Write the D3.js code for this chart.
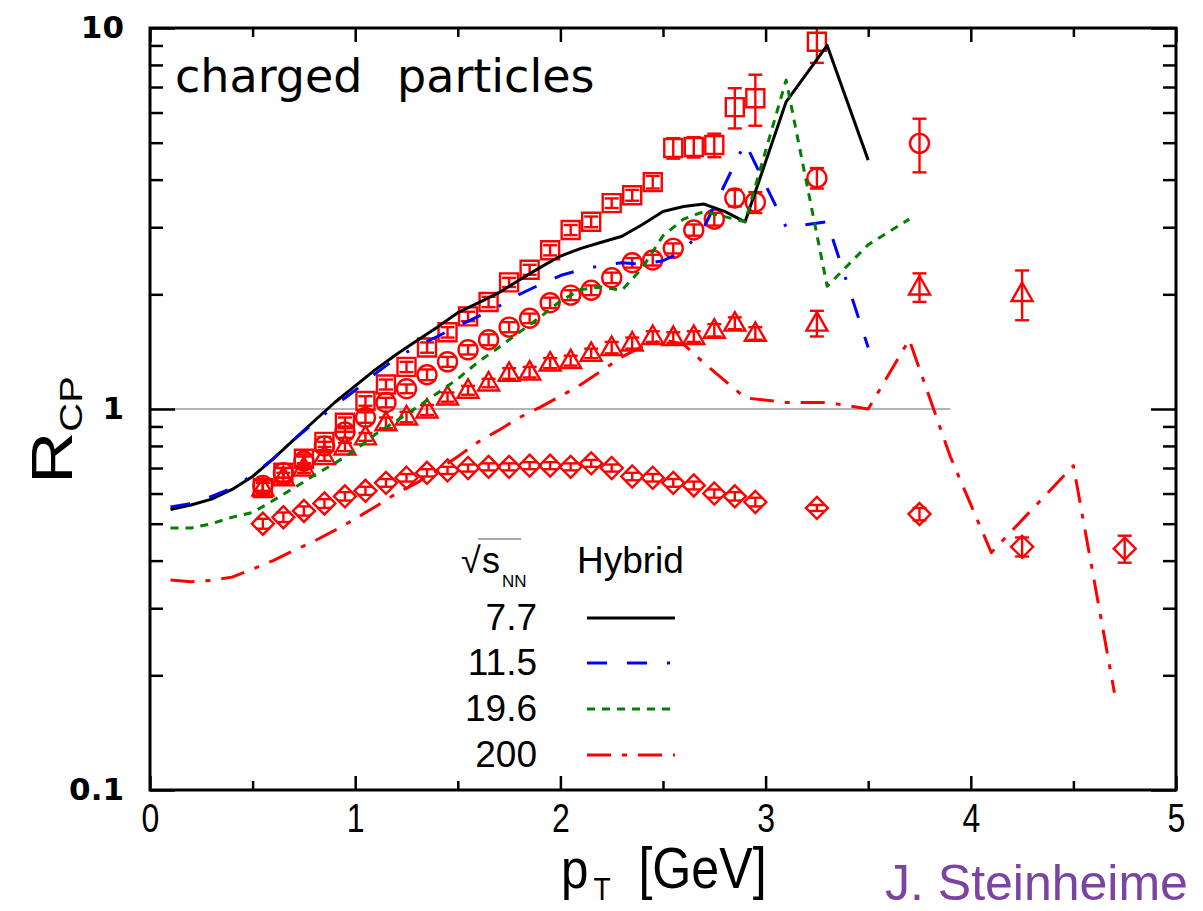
<!DOCTYPE html>
<html>
<head>
<meta charset="utf-8">
<script src="https://cdn.jsdelivr.net/npm/d3@7"></script>
<style>
  body { margin: 0; background: #fff; }
  svg { display: block; }
</style>
</head>
<body>
<svg id="chart" width="1203" height="911"></svg>
<script>
// ---- measured R_CP points (charged particles), open red markers ----
const pt77  = [0.55,0.65,0.75,0.85,0.95,1.05,1.15,1.25,1.35,1.45,1.55,1.65,1.75,1.85,1.95,2.05,2.15,2.25,2.35,2.45,2.55,2.65,2.75,2.85,2.95,3.25];
const rcp77 = [0.62,0.68,0.74,0.82,0.92,1.05,1.16,1.29,1.45,1.59,1.75,1.91,2.15,2.32,2.61,2.95,3.10,3.47,3.64,3.94,4.84,4.87,4.93,6.20,6.54,9.20];
const err77 = [0.02,0.02,0.02,0.025,0.03,0.03,0.035,0.04,0.045,0.05,0.05,0.06,0.06,0.07,0.08,0.09,0.10,0.10,0.12,0.15,0.30,0.30,0.35,0.75,1.00,1.10];

const pt115  = [0.55,0.65,0.75,0.85,0.95,1.05,1.15,1.25,1.35,1.45,1.55,1.65,1.75,1.85,1.95,2.05,2.15,2.25,2.35,2.45,2.55,2.65,2.75,2.85,2.95,3.25,3.75];
const rcp115 = [0.63,0.68,0.73,0.80,0.87,0.95,1.04,1.13,1.23,1.33,1.43,1.52,1.64,1.73,1.90,1.99,2.05,2.21,2.42,2.46,2.64,2.95,3.15,3.58,3.49,4.04,4.98];
const err115 = [0.02,0.02,0.02,0.02,0.03,0.03,0.03,0.03,0.04,0.04,0.04,0.05,0.05,0.05,0.06,0.06,0.06,0.07,0.07,0.08,0.08,0.10,0.12,0.18,0.22,0.25,0.80];

const pt196  = [0.55,0.65,0.75,0.85,0.95,1.05,1.15,1.25,1.35,1.45,1.55,1.65,1.75,1.85,1.95,2.05,2.15,2.25,2.35,2.45,2.55,2.65,2.75,2.85,2.95,3.25,3.75,4.25];
const rcp196 = [0.62,0.66,0.70,0.75,0.795,0.845,0.92,0.953,0.994,1.075,1.12,1.17,1.24,1.25,1.32,1.34,1.40,1.45,1.49,1.55,1.54,1.55,1.61,1.68,1.58,1.68,2.09,2.01];
const err196 = [0.02,0.02,0.02,0.02,0.02,0.02,0.03,0.03,0.03,0.03,0.03,0.03,0.04,0.04,0.04,0.04,0.04,0.05,0.05,0.05,0.05,0.05,0.06,0.06,0.06,0.13,0.18,0.30];

const pt200  = [0.55,0.65,0.75,0.85,0.95,1.05,1.15,1.25,1.35,1.45,1.55,1.65,1.75,1.85,1.95,2.05,2.15,2.25,2.35,2.45,2.55,2.65,2.75,2.85,2.95,3.25,3.75,4.25,4.75];
const rcp200 = [0.50,0.52,0.54,0.565,0.59,0.61,0.64,0.66,0.68,0.69,0.70,0.705,0.705,0.71,0.71,0.705,0.72,0.70,0.665,0.66,0.64,0.63,0.60,0.59,0.57,0.55,0.53,0.435,0.43];
const err200 = [0.015,0.015,0.015,0.015,0.015,0.015,0.015,0.015,0.015,0.015,0.015,0.015,0.015,0.015,0.015,0.015,0.015,0.015,0.015,0.015,0.015,0.015,0.015,0.015,0.015,0.01,0.02,0.025,0.035];

// ---- hybrid model curves ----
const modelPt77 = [0.1,0.2,0.3,0.4,0.5,0.6,0.7,0.8,0.9,1.0,1.1,1.2,1.3,1.4,1.5,1.6,1.7,1.8,1.9,2.0,2.1,2.2,2.3,2.4,2.5,2.6,2.7,2.8,2.9,3.1,3.3,3.5];
const model77   = [0.545,0.56,0.58,0.615,0.665,0.74,0.83,0.93,1.04,1.15,1.27,1.39,1.51,1.64,1.79,1.90,2.02,2.18,2.35,2.52,2.64,2.74,2.84,3.05,3.30,3.40,3.45,3.30,3.10,6.40,9.00,4.50];

const modelPt115 = [0.1,0.2,0.3,0.4,0.5,0.6,0.7,0.8,0.9,1.0,1.1,1.2,1.3,1.4,1.5,1.6,1.7,1.8,1.9,2.0,2.1,2.2,2.3,2.4,2.5,2.6,2.7,2.9,3.1,3.3,3.5];
const model115   = [0.553,0.565,0.59,0.62,0.67,0.74,0.83,0.92,1.02,1.12,1.24,1.36,1.46,1.55,1.65,1.75,1.86,2.00,2.12,2.24,2.32,2.38,2.42,2.40,2.45,2.60,3.00,5.00,3.00,3.10,1.45];

const modelPt196 = [0.1,0.2,0.3,0.4,0.5,0.6,0.7,0.8,0.9,1.0,1.1,1.2,1.3,1.4,1.5,1.6,1.7,1.8,1.9,2.0,2.1,2.2,2.3,2.4,2.5,2.6,2.7,2.9,3.1,3.3,3.5,3.7];
const model196   = [0.487,0.487,0.50,0.52,0.535,0.575,0.62,0.67,0.72,0.78,0.86,0.93,1.01,1.10,1.20,1.33,1.45,1.59,1.74,1.92,2.06,2.09,2.05,2.35,2.85,3.15,3.30,3.10,7.30,2.10,2.70,3.15];

const modelPt200 = [0.1,0.2,0.3,0.4,0.5,0.6,0.7,0.8,0.9,1.0,1.1,1.2,1.3,1.4,1.5,1.6,1.7,1.8,1.9,2.0,2.1,2.2,2.3,2.4,2.5,2.6,2.7,2.9,3.1,3.3,3.5,3.7,3.9,4.1,4.5,4.7];
const model200   = [0.356,0.352,0.355,0.362,0.38,0.40,0.425,0.45,0.48,0.515,0.555,0.60,0.64,0.69,0.75,0.82,0.88,0.95,1.01,1.08,1.16,1.26,1.37,1.46,1.52,1.48,1.32,1.07,1.04,1.04,1.00,1.52,0.75,0.42,0.71,0.18];

// ---- axes ticks and legend labels ----
const xTicks = [0, 1, 2, 3, 4, 5];
const xMinorTicks = [0.5, 1.5, 2.5, 3.5, 4.5];
const yTicks = [0.1, 1, 10];
const yMinorTicks = [0.2,0.3,0.4,0.5,0.6,0.7,0.8,0.9,2,3,4,5,6,7,8,9];
const yTickLabels = ["0.1", "1", "10"];
const legendEnergies = ["7.7", "11.5", "19.6", "200"];

const svg = d3.select("#chart");
const plotL = 150, plotR = 1176, plotT = 28, plotB = 790;

const x = d3.scaleLinear().domain([0, 5]).range([plotL, plotR]);
const y = d3.scaleLog().domain([0.1, 10]).range([plotB, plotT]);

const RED = "#ff0000";
const sans = "'Liberation Sans', Arial, sans-serif";
const dejavu = "'DejaVu Sans', Verdana, sans-serif";

// clip region for the plotted content
svg.append("defs").append("clipPath").attr("id", "plotClip")
  .append("rect").attr("x", plotL).attr("y", plotT - 1)
  .attr("width", plotR - plotL).attr("height", plotB - plotT + 2);

// reference line at R_CP = 1
svg.append("line")
  .attr("x1", x(0)).attr("x2", x(3.9))
  .attr("y1", y(1)).attr("y2", y(1))
  .attr("stroke", "#b4b4b4").attr("stroke-width", 2.2);

// ---- data markers with error bars ----
const markerShapes = {
  square:   "M-9,-9H9V9H-9Z",
  circle:   d3.arc()({innerRadius: 0, outerRadius: 9.5, startAngle: 0, endAngle: 2 * Math.PI}),
  triangle: "M0,-11L10.5,7.5L-10.5,7.5Z",
  diamond:  "M0,-11L11,0L0,11L-11,0Z"
};

const dataSeries = [
  {pt: pt77,  v: rcp77,  e: err77,  shape: "square"},
  {pt: pt115, v: rcp115, e: err115, shape: "circle"},
  {pt: pt196, v: rcp196, e: err196, shape: "triangle"},
  {pt: pt200, v: rcp200, e: err200, shape: "diamond"}
];

const dataLayer = svg.append("g").attr("clip-path", "url(#plotClip)");
dataSeries.forEach(s => {
  const pts = s.pt.map((p, i) => ({p, v: s.v[i], e: s.e[i]}));
  const g = dataLayer.append("g")
    .attr("fill", "none").attr("stroke", RED).attr("stroke-width", 2.4);
  const items = g.selectAll("g").data(pts).join("g")
    .attr("transform", d => `translate(${x(d.p)},0)`);
  items.append("line")
    .attr("x1", 0).attr("x2", 0)
    .attr("y1", d => y(d.v - d.e)).attr("y2", d => y(d.v + d.e));
  items.append("line")
    .attr("x1", -7).attr("x2", 7)
    .attr("y1", d => y(d.v - d.e)).attr("y2", d => y(d.v - d.e));
  items.append("line")
    .attr("x1", -7).attr("x2", 7)
    .attr("y1", d => y(d.v + d.e)).attr("y2", d => y(d.v + d.e));
  items.append("path")
    .attr("d", markerShapes[s.shape])
    .attr("transform", d => `translate(0,${y(d.v)})`);
});

// ---- model curves ----
const modelSeries = [
  {pt: modelPt77,  v: model77,  color: "#000000", dash: null},
  {pt: modelPt115, v: model115, color: "#0000ff", dash: "20,20,20,20,3,20"},
  {pt: modelPt196, v: model196, color: "#008000", dash: "8,7"},
  {pt: modelPt200, v: model200, color: "#ff0000", dash: "24,11,5,11"}
];
const line = d3.line().x(d => x(d[0])).y(d => y(d[1]));
const modelLayer = svg.append("g").attr("clip-path", "url(#plotClip)");
modelSeries.forEach(m => {
  modelLayer.append("path")
    .datum(m.pt.map((p, i) => [p, m.v[i]]))
    .attr("d", line)
    .attr("fill", "none")
    .attr("stroke", m.color)
    .attr("stroke-width", 3)
    .attr("stroke-linejoin", "round")
    .attr("stroke-dasharray", m.dash);
});

// ---- axes ----
function styleTicks(g, w) {
  g.select(".domain").remove();
  g.selectAll(".tick line").attr("stroke", "#000").attr("stroke-width", w);
}

svg.append("g").attr("transform", `translate(0,${plotB})`)
  .call(d3.axisBottom(x).tickValues(xTicks).tickSize(-14).tickPadding(14).tickFormat(d3.format("d")))
  .call(g => styleTicks(g, 2.5))
  .call(g => g.selectAll("text")
    .attr("font-family", sans).attr("font-size", 40).attr("fill", "#000")
    .attr("transform", "scale(0.8,1)"));
svg.append("g").attr("transform", `translate(0,${plotB})`)
  .call(d3.axisBottom(x).tickValues(xMinorTicks).tickSize(-9).tickFormat(""))
  .call(g => styleTicks(g, 2.5));
svg.append("g").attr("transform", `translate(0,${plotT})`)
  .call(d3.axisTop(x).tickValues(xTicks).tickSize(-14).tickFormat(""))
  .call(g => styleTicks(g, 2.5));
svg.append("g").attr("transform", `translate(0,${plotT})`)
  .call(d3.axisTop(x).tickValues(xMinorTicks).tickSize(-9).tickFormat(""))
  .call(g => styleTicks(g, 2.5));

svg.append("g").attr("transform", `translate(${plotL},0)`)
  .call(d3.axisLeft(y).tickValues(yTicks).tickSize(-25).tickPadding(26)
    .tickFormat((d, i) => yTickLabels[i]))
  .call(g => styleTicks(g, 2.5))
  .call(g => g.selectAll("text")
    .attr("font-family", dejavu).attr("font-weight", "bold")
    .attr("font-size", 31).attr("fill", "#000"));
svg.append("g").attr("transform", `translate(${plotL},0)`)
  .call(d3.axisLeft(y).tickValues(yMinorTicks).tickSize(-13).tickFormat(""))
  .call(g => styleTicks(g, 2.5));
svg.append("g").attr("transform", `translate(${plotR},0)`)
  .call(d3.axisRight(y).tickValues(yTicks).tickSize(-25).tickFormat(""))
  .call(g => styleTicks(g, 2.5));
svg.append("g").attr("transform", `translate(${plotR},0)`)
  .call(d3.axisRight(y).tickValues(yMinorTicks).tickSize(-13).tickFormat(""))
  .call(g => styleTicks(g, 2.5));

// frame
svg.append("rect")
  .attr("x", plotL).attr("y", plotT)
  .attr("width", plotR - plotL).attr("height", plotB - plotT)
  .attr("fill", "none").attr("stroke", "#000").attr("stroke-width", 3);

// ---- axis titles ----
const xTitle = svg.append("g").attr("transform", "translate(561,888) scale(0.88,1)")
  .attr("font-family", sans).attr("fill", "#000");
xTitle.append("text").attr("x", 0).attr("y", 0).attr("font-size", 56).text("p");
xTitle.append("text").attr("x", 37).attr("y", 12).attr("font-size", 32).text("T");
xTitle.append("text").attr("x", 88).attr("y", 0).attr("font-size", 57).text("[GeV]");

const yTitle = svg.append("text")
  .attr("transform", "translate(72,484) rotate(-90) scale(1.25,1)")
  .attr("font-family", sans).attr("fill", "#000");
yTitle.append("tspan").attr("font-size", 58).text("R");
yTitle.append("tspan").attr("font-size", 32).attr("dy", 10).text("CP");

// ---- panel label ----
const panel = svg.append("text").attr("y", 92)
  .attr("font-family", dejavu).attr("font-size", 46).attr("fill", "#000");
panel.append("tspan").attr("x", 175).text("charged");
panel.append("tspan").attr("x", 397).text("particles");

// ---- legend ----
const legend = svg.append("g").attr("font-family", sans).attr("fill", "#000");
// header: sqrt(s_NN) and model name
legend.append("text").attr("x", 461).attr("y", 573).attr("font-size", 36).text("\u221A");
legend.append("line").attr("x1", 478).attr("x2", 521).attr("y1", 539).attr("y2", 539)
  .attr("stroke", "#8a8a8a").attr("stroke-width", 1.5);
legend.append("text").attr("x", 482).attr("y", 573).attr("font-size", 36).text("s");
legend.append("text").attr("x", 502).attr("y", 587).attr("font-size", 17).text("NN");
legend.append("text").attr("x", 577).attr("y", 573).attr("font-size", 37).text("Hybrid");

const legendRowY = [618, 663, 709, 755];
legendEnergies.forEach((label, i) => {
  legend.append("text")
    .attr("x", 537).attr("y", legendRowY[i] + 12)
    .attr("text-anchor", "end").attr("font-size", 37)
    .text(label);
  legend.append("line")
    .attr("x1", 587).attr("x2", 675)
    .attr("y1", legendRowY[i]).attr("y2", legendRowY[i])
    .attr("stroke", modelSeries[i].color).attr("stroke-width", 3)
    .attr("stroke-dasharray", modelSeries[i].dash);
});

// ---- author credit ----
svg.append("text")
  .attr("x", 885).attr("y", 900)
  .attr("font-family", sans).attr("font-size", 50)
  .attr("fill", "#7b44a0")
  .text("J. Steinheime");
</script>
</body>
</html>
